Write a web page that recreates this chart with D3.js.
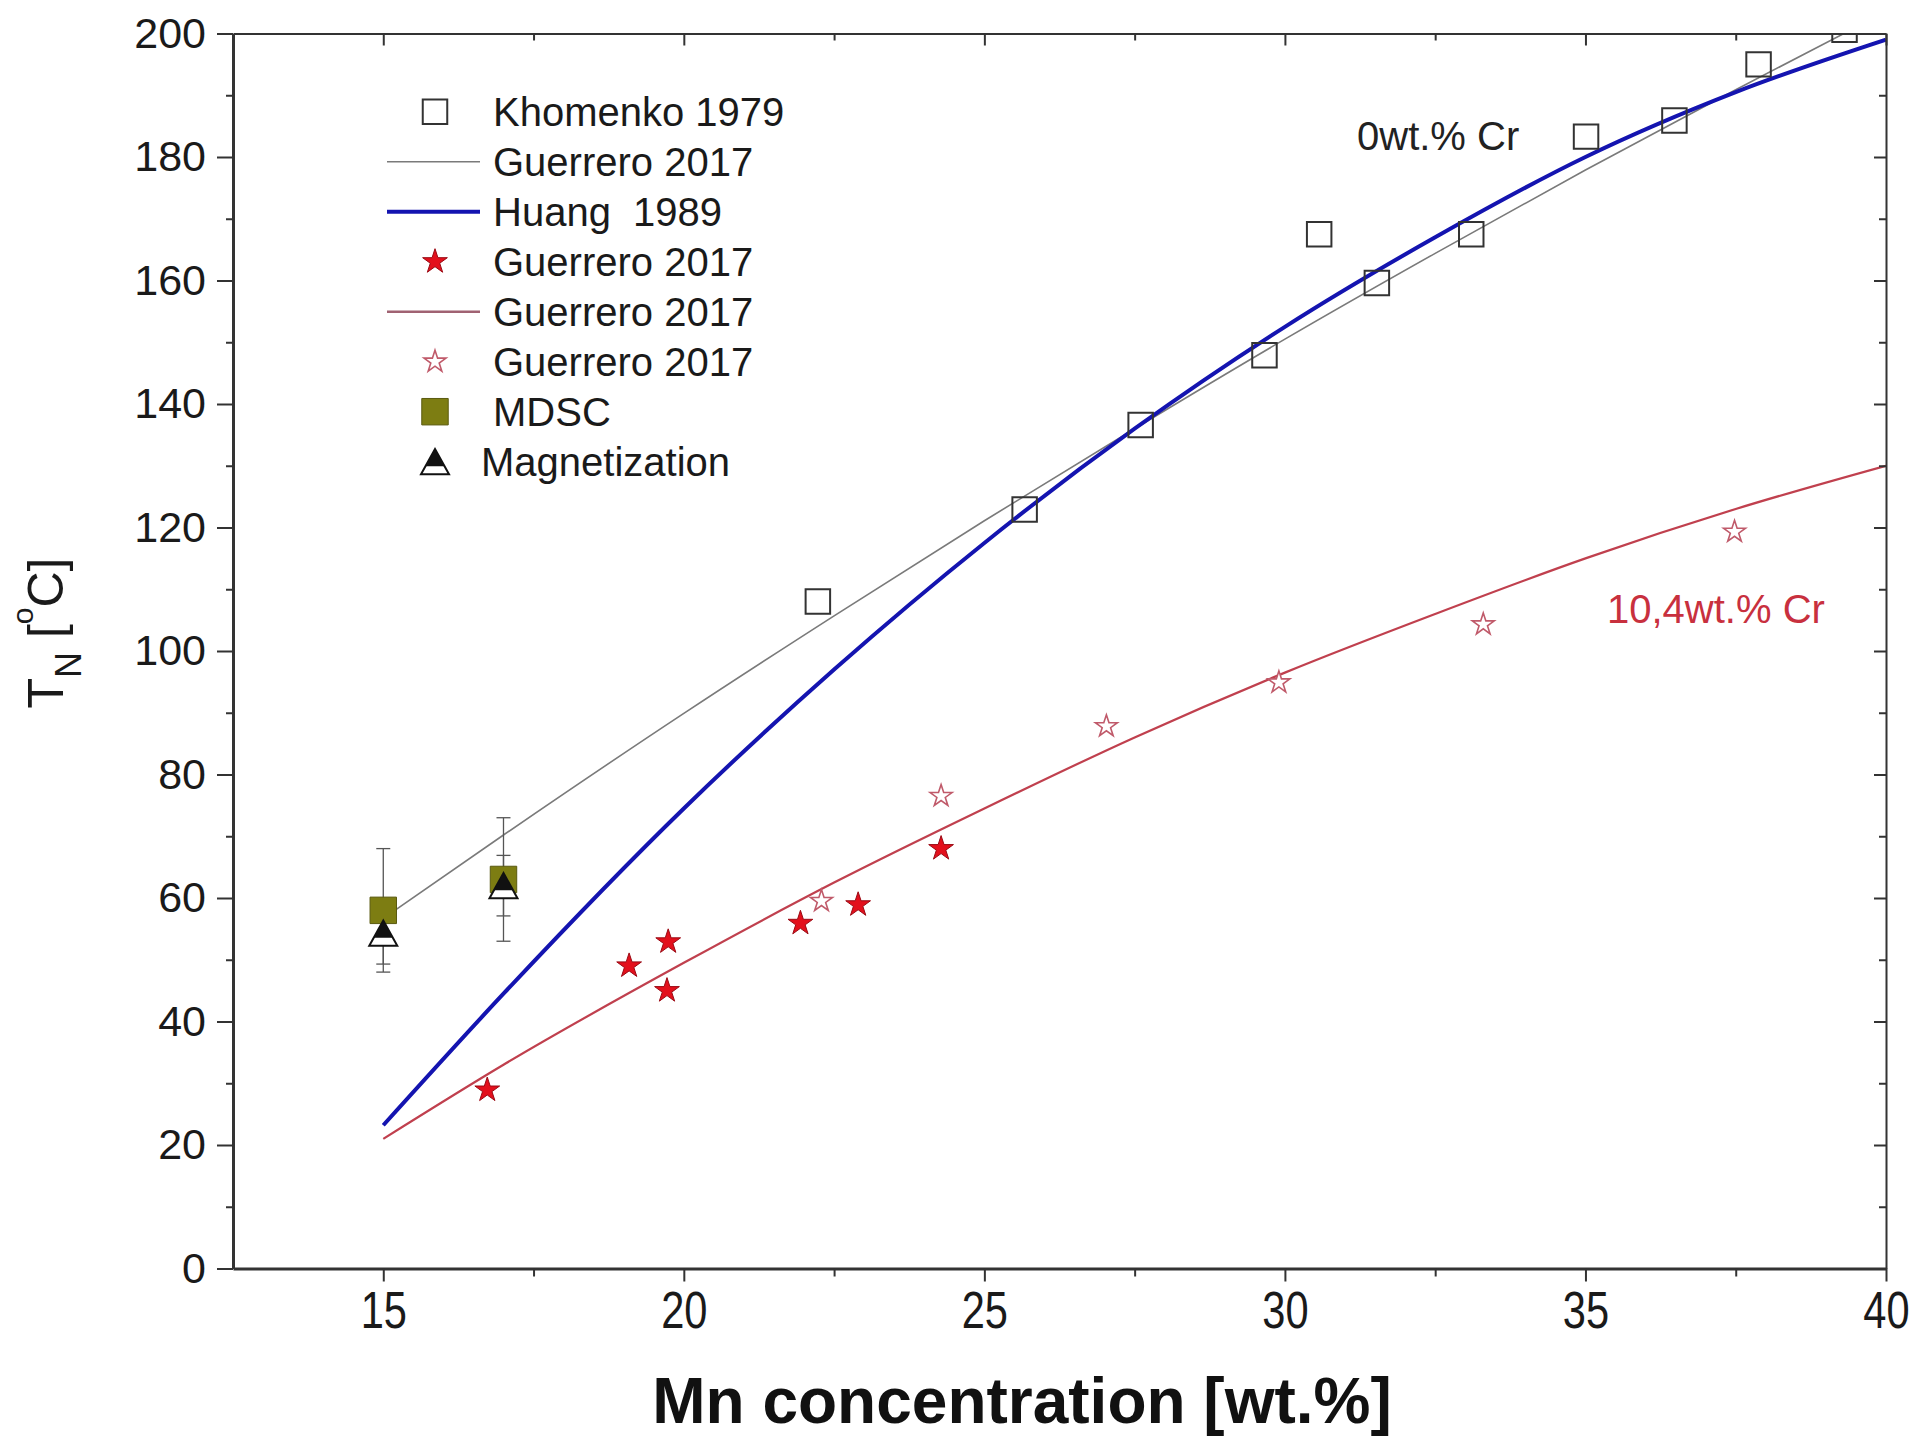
<!DOCTYPE html>
<html>
<head>
<meta charset="utf-8">
<title>TN vs Mn concentration</title>
<style>
    body { margin: 0; background: #fff; }
    text { font-family: "Liberation Sans", Arial, sans-serif; }
    .axis path, .axis line { stroke: #333; }
</style>
</head>
<body>
<script src="https://cdnjs.cloudflare.com/ajax/libs/d3/7.8.5/d3.min.js"></script>
<script>
// Khomenko 1979 (open squares, 0 wt.% Cr)
const khomenkoMn = [22.23, 25.67, 27.60, 29.66, 30.57, 31.53, 33.10, 35.01, 36.48, 37.88, 39.31];
const khomenkoTN = [108.0, 122.9, 136.6, 147.9, 167.5, 159.6, 167.5, 183.3, 185.9, 195.0, 200.6];

// Guerrero 2017 fit, 0 wt.% Cr (thin grey line)
const grFitMn = [15, 17, 20, 22.5, 25, 27.5, 30, 32.5, 35, 37.5, 39.4];
const grFitTN = [56.7, 70.2, 89.9, 105.7, 121.1, 136.0, 150.5, 164.4, 177.9, 190.9, 200.5];

// Huang 1989 (thick blue line)
const huangMn = [15, 17, 20, 22.5, 25, 27.5, 30, 32.5, 35, 37.5, 40];
const huangTN = [23.2, 44.5, 74.5, 97.0, 117.5, 136.0, 152.5, 167.0, 180.0, 190.5, 199.0];

// Guerrero 2017, 10.4 wt.% Cr : filled stars, fit line, open stars
const crFilledMn = [16.73, 19.09, 19.74, 19.72, 21.94, 22.90, 24.28];
const crFilledTN = [28.9, 49.0, 52.9, 45.0, 55.9, 58.9, 68.0];
const crFitMn = [15, 17, 20, 22.5, 25, 27.5, 30, 32.5, 35, 37.5, 40];
const crFitTN = [21.0, 33.0, 49.5, 62.5, 74.5, 86.0, 96.5, 106.0, 115.0, 123.0, 130.0];
const crOpenMn = [22.29, 24.28, 27.03, 29.90, 33.30, 37.48];
const crOpenTN = [59.5, 76.5, 87.8, 94.9, 104.3, 119.3];

// this work: MDSC and magnetization, with error bars
const mdscMn = [15, 17];
const mdscTN = [58.0, 63.0];
const mdscErr = [10, 10];
const magMn = [15, 17];
const magTN = [54.3, 62.0];
const magErr = [5, 4.9];

// axis ticks
const xMajor = [15, 20, 25, 30, 35, 40];
const xMinor = [17.5, 22.5, 27.5, 32.5, 37.5];
const yMajor = [0, 20, 40, 60, 80, 100, 120, 140, 160, 180, 200];
const yMinor = [10, 30, 50, 70, 90, 110, 130, 150, 170, 190];

const legendLabels = ["Khomenko 1979", "Guerrero 2017", "Huang  1989", "Guerrero 2017",
    "Guerrero 2017", "Guerrero 2017", "MDSC", "Magnetization"];

const W = 1919, H = 1437;
const margin = {top: 33.5, right: 33, bottom: 168.5, left: 233};

const svg = d3.select("body").append("svg")
    .attr("width", W)
    .attr("height", H);

const x = d3.scaleLinear().domain([12.5, 40]).range([margin.left, W - margin.right]);
const y = d3.scaleLinear().domain([0, 200]).range([H - margin.bottom, margin.top]);

const zip = (a, b) => a.map((v, i) => [v, b[i]]);

// colours
const cGrey = "#7a7a7a", cBlue = "#1414b0", cRed = "#c0404e",
      cStar = "#e3101c", cOpenStar = "#c05a6a", cOlive = "#7d7d12", cText = "#1a1a1a";

svg.append("clipPath").attr("id", "plotclip")
    .append("rect")
    .attr("x", margin.left).attr("y", margin.top)
    .attr("width", W - margin.left - margin.right)
    .attr("height", H - margin.top - margin.bottom);

const plot = svg.append("g").attr("clip-path", "url(#plotclip)");

const line = d3.line().x(d => x(d[0])).y(d => y(d[1])).curve(d3.curveMonotoneX);

// lines
plot.append("path").datum(zip(grFitMn, grFitTN))
    .attr("d", line).attr("fill", "none").attr("stroke", cGrey).attr("stroke-width", 1.6);
plot.append("path").datum(zip(crFitMn, crFitTN))
    .attr("d", line).attr("fill", "none").attr("stroke", cRed).attr("stroke-width", 2.2);
plot.append("path").datum(zip(huangMn, huangTN))
    .attr("d", line).attr("fill", "none").attr("stroke", cBlue).attr("stroke-width", 4);

// symbols
const sq = d3.symbol().type(d3.symbolSquare);
const star = d3.symbol().type(d3.symbolStar);

function triangle(g, cx, cy, s) {
    // black triangle with a white band in the lower part
    const h = s * 0.9;
    g.append("path")
        .attr("d", `M${cx},${cy - h / 2}L${cx + s / 2},${cy + h / 2}L${cx - s / 2},${cy + h / 2}Z`)
        .attr("fill", "#fff").attr("stroke", "#111").attr("stroke-width", 2);
    g.append("path")
        .attr("d", `M${cx},${cy - h / 2}L${cx + s * 0.34},${cy + h * 0.18}L${cx - s * 0.34},${cy + h * 0.18}Z`)
        .attr("fill", "#111");
}

function errorBar(g, px, v, e) {
    const cap = 7;
    g.append("line").attr("x1", x(px)).attr("x2", x(px))
        .attr("y1", y(v - e)).attr("y2", y(v + e))
        .attr("stroke", "#555").attr("stroke-width", 1.3);
    [v - e, v + e].forEach(t => {
        g.append("line").attr("x1", x(px) - cap).attr("x2", x(px) + cap)
            .attr("y1", y(t)).attr("y2", y(t))
            .attr("stroke", "#555").attr("stroke-width", 1.3);
    });
}

mdscMn.forEach((m, i) => errorBar(plot, m, mdscTN[i], mdscErr[i]));
magMn.forEach((m, i) => errorBar(plot, m, magTN[i], magErr[i]));

plot.selectAll(".khom").data(zip(khomenkoMn, khomenkoTN)).join("path")
    .attr("transform", d => `translate(${x(d[0])},${y(d[1])})`)
    .attr("d", sq.size(600)())
    .attr("fill", "none").attr("stroke", "#333").attr("stroke-width", 2);

plot.selectAll(".crf").data(zip(crFilledMn, crFilledTN)).join("path")
    .attr("transform", d => `translate(${x(d[0])},${y(d[1])})`)
    .attr("d", star.size(190)())
    .attr("fill", cStar).attr("stroke", "#9a0a14").attr("stroke-width", 1);

plot.selectAll(".cro").data(zip(crOpenMn, crOpenTN)).join("path")
    .attr("transform", d => `translate(${x(d[0])},${y(d[1])})`)
    .attr("d", star.size(150)())
    .attr("fill", "#fff").attr("stroke", cOpenStar).attr("stroke-width", 1.6);

plot.selectAll(".mdsc").data(zip(mdscMn, mdscTN)).join("path")
    .attr("transform", d => `translate(${x(d[0])},${y(d[1])})`)
    .attr("d", sq.size(700)())
    .attr("fill", cOlive).attr("stroke", "#5a5a10").attr("stroke-width", 1);

magMn.forEach((m, i) => triangle(plot, x(m), y(magTN[i]), 28));

// axes
const xb = svg.append("g").attr("class", "axis")
    .attr("transform", `translate(0,${y(0)})`)
    .call(d3.axisBottom(x).tickValues(xMajor).tickSize(13).tickSizeOuter(0));
xb.select(".domain").attr("stroke-width", 3);
xb.selectAll("line").attr("stroke-width", 2);
xb.selectAll("text")
    .attr("y", 59.5).attr("dy", null)
    .attr("transform", "scale(0.8,1)")
    .style("font-size", "52px").style("fill", cText);

svg.append("g").attr("class", "axis")
    .attr("transform", `translate(0,${y(0)})`)
    .call(d3.axisBottom(x).tickValues(xMinor).tickSize(8).tickFormat(""))
    .call(g => g.select(".domain").remove())
    .selectAll("line").attr("stroke-width", 2);

const yl = svg.append("g").attr("class", "axis")
    .attr("transform", `translate(${x(12.5)},0)`)
    .call(d3.axisLeft(y).tickValues(yMajor).tickSize(16).tickPadding(11).tickSizeOuter(0));
yl.select(".domain").attr("stroke-width", 3);
yl.selectAll("line").attr("stroke-width", 2);
yl.selectAll("text").style("font-size", "43px").style("fill", cText);

svg.append("g").attr("class", "axis")
    .attr("transform", `translate(${x(12.5)},0)`)
    .call(d3.axisLeft(y).tickValues(yMinor).tickSize(7).tickFormat(""))
    .call(g => g.select(".domain").remove())
    .selectAll("line").attr("stroke-width", 2);

// mirrored top / right axes with inward ticks
svg.append("g").attr("class", "axis")
    .attr("transform", `translate(0,${y(200)})`)
    .call(d3.axisTop(x).tickValues(xMajor).tickSize(-12).tickFormat("").tickSizeOuter(0))
    .call(g => g.select(".domain").attr("stroke-width", 2))
    .selectAll("line").attr("stroke-width", 2);
svg.append("g").attr("class", "axis")
    .attr("transform", `translate(0,${y(200)})`)
    .call(d3.axisTop(x).tickValues(xMinor).tickSize(-7).tickFormat(""))
    .call(g => g.select(".domain").remove())
    .selectAll("line").attr("stroke-width", 2);
svg.append("g").attr("class", "axis")
    .attr("transform", `translate(${x(40)},0)`)
    .call(d3.axisRight(y).tickValues(yMajor).tickSize(-12).tickFormat("").tickSizeOuter(0))
    .call(g => g.select(".domain").attr("stroke-width", 2))
    .selectAll("line").attr("stroke-width", 2);
svg.append("g").attr("class", "axis")
    .attr("transform", `translate(${x(40)},0)`)
    .call(d3.axisRight(y).tickValues(yMinor).tickSize(-7).tickFormat(""))
    .call(g => g.select(".domain").remove())
    .selectAll("line").attr("stroke-width", 2);

// axis titles
svg.append("text")
    .attr("x", 1022).attr("y", 1423)
    .attr("text-anchor", "middle")
    .style("font-size", "64px").style("font-weight", "bold")
    .style("fill", "#111")
    .text("Mn concentration [wt.%]");

const yt = svg.append("text")
    .attr("transform", "translate(63,633) rotate(-90)")
    .attr("text-anchor", "middle")
    .style("font-size", "50px").style("fill", cText);
yt.append("tspan").text("T");
yt.append("tspan").attr("dy", 18).style("font-size", "36px").text("N");
yt.append("tspan").attr("dy", -18).text(" [");
yt.append("tspan").attr("dy", -30).style("font-size", "30px").text("o");
yt.append("tspan").attr("dy", 30).text("C]");

// annotations
svg.append("text").attr("x", 1357).attr("y", 150)
    .style("font-size", "40px").style("fill", "#222").text("0wt.% Cr");
svg.append("text").attr("x", 1607).attr("y", 623)
    .style("font-size", "40px").style("fill", "#c8303e").text("10,4wt.% Cr");

// legend
const legend = svg.append("g");
const lgX = 435, lgY0 = 111.7, lgDy = 50;
const rowY = i => lgY0 + i * lgDy;

legend.append("path").attr("transform", `translate(${lgX},${rowY(0)})`)
    .attr("d", sq.size(600)()).attr("fill", "none").attr("stroke", "#333").attr("stroke-width", 2);
legend.append("line").attr("x1", 387).attr("x2", 480).attr("y1", rowY(1)).attr("y2", rowY(1))
    .attr("stroke", cGrey).attr("stroke-width", 1.6);
legend.append("line").attr("x1", 387).attr("x2", 480).attr("y1", rowY(2)).attr("y2", rowY(2))
    .attr("stroke", cBlue).attr("stroke-width", 4);
legend.append("path").attr("transform", `translate(${lgX},${rowY(3)})`)
    .attr("d", star.size(190)()).attr("fill", cStar).attr("stroke", "#9a0a14").attr("stroke-width", 1);
legend.append("line").attr("x1", 387).attr("x2", 480).attr("y1", rowY(4)).attr("y2", rowY(4))
    .attr("stroke", "#a06272").attr("stroke-width", 2.5);
legend.append("path").attr("transform", `translate(${lgX},${rowY(5)})`)
    .attr("d", star.size(150)()).attr("fill", "#fff").attr("stroke", cOpenStar).attr("stroke-width", 1.6);
legend.append("path").attr("transform", `translate(${lgX},${rowY(6)})`)
    .attr("d", sq.size(700)()).attr("fill", cOlive).attr("stroke", "#5a5a10").attr("stroke-width", 1);
triangle(legend, lgX, rowY(7), 28);

legend.selectAll("text").data(legendLabels).join("text")
    .attr("x", (d, i) => i === 7 ? 481 : 493)
    .attr("y", (d, i) => rowY(i))
    .attr("dy", "0.36em")
    .style("font-size", "40px")
    .style("white-space", "pre")
    .style("fill", cText)
    .text(d => d);
</script>
</body>
</html>
